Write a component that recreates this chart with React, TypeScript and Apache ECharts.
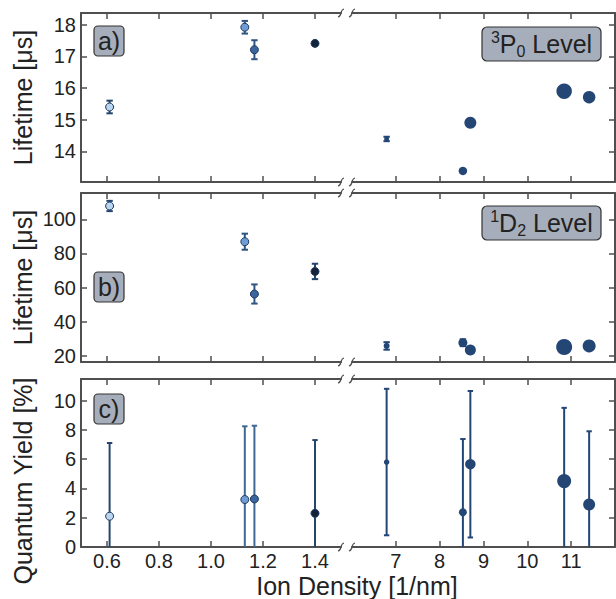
import React, { useEffect, useRef } from 'react';
import * as echarts from 'echarts';

// ---------- data ----------
const xTicksLeft = [0.6, 0.8, 1.0, 1.2, 1.4];
const xTicksRight = [7, 8, 9, 10, 11];
const densityLeft = [0.61, 1.13, 1.167, 1.4];
const densityRight = [6.79, 8.53, 8.7, 10.84, 11.41];

const p0Ticks = [14, 15, 16, 17, 18];
const p0Left = [15.4, 17.92, 17.21, 17.41];
const p0LeftErr = [0.2, 0.2, 0.3, 0.05];
const p0Right = [14.39, 13.38, 14.9, 15.9, 15.71];
const p0RightErr = [0.07, 0, 0, 0, 0];

const d2Ticks = [20, 40, 60, 80, 100];
const d2Left = [107.8, 86.9, 56.3, 69.5];
const d2LeftErr = [3, 4.7, 5.6, 4.5];
const d2Right = [25.9, 27.8, 23.5, 25.3, 25.9];
const d2RightErr = [2.2, 2, 0, 0, 0];

const qyTicks = [0, 2, 4, 6, 8, 10];
const qyLeft = [2.1, 3.24, 3.28, 2.3];
const qyLeftErr = [5, 5, 5, 5];
const qyRight = [5.8, 2.37, 5.65, 4.5, 2.9];
const qyRightErr = [5, 5, 5, 5, 5];

// ---------- styles ----------
const FONT = '"Liberation Sans", Arial, Helvetica, sans-serif';
const AX = '#4f4f4f';
const TXT = '#222222';
const leftColors = ['#b9d5f0', '#6e9dd6', '#3a659f', '#14233a'];
const leftErrColors = ['#24466e', '#2f5683', '#2f5683', '#24466e'];
const qyLeftErrColors = ['#24466e', '#3d6893', '#3d6893', '#24466e'];
const rightColor = '#244675';
const markerBorder = '#1f3a5e';
const leftSize = 8;

const TOPS = [13, 193, 379];
const HEIGHTS = [169, 169, 168];
const LEFT_X = 81;
const LEFT_W = 260;
const RIGHT_X = 352;
const RIGHT_W = 263;

const panels = [
  { yMin: 13.03, yMax: 18.37, ticks: p0Ticks, name: 'Lifetime [μs]', namePad: 0,
    left: p0Left, leftErr: p0LeftErr, right: p0Right, rightErr: p0RightErr,
    rightSizes: [5, 8.5, 12, 15.5, 12.5], leftErrCol: leftErrColors },
  { yMin: 16.5, yMax: 115.4, ticks: d2Ticks, name: 'Lifetime [μs]', namePad: 0,
    left: d2Left, leftErr: d2LeftErr, right: d2Right, rightErr: d2RightErr,
    rightSizes: [6, 9, 11, 16, 13], leftErrCol: leftErrColors },
  { yMin: 0, yMax: 11.47, ticks: qyTicks, name: 'Quantum Yield [%]', namePad: 36,
    left: qyLeft, leftErr: qyLeftErr, right: qyRight, rightErr: qyRightErr,
    rightSizes: [5.5, 8, 10.5, 14, 12], leftErrCol: qyLeftErrColors },
];

function errSeries(gi: number, xs: number[], ys: number[], es: number[], colors: string[], cap: number) {
  return {
    type: 'custom',
    xAxisIndex: gi * 2,
    yAxisIndex: gi,
    clip: true,
    silent: true,
    z: 2,
    data: xs.map((x, i) => [x, ys[i], es[i]]),
    encode: { x: 0, y: 1 },
    renderItem: (params: any, api: any) => {
      const x = api.value(0);
      const y = api.value(1);
      const e = api.value(2);
      if (!e) return { type: 'group', children: [] };
      const t = api.coord([x, y + e]);
      const b = api.coord([x, y - e]);
      const st = { stroke: colors[params.dataIndex], lineWidth: 2 };
      return {
        type: 'group',
        children: [
          { type: 'line', shape: { x1: t[0], y1: t[1], x2: b[0], y2: b[1] }, style: st },
          { type: 'line', shape: { x1: t[0] - cap, y1: t[1], x2: t[0] + cap, y2: t[1] }, style: st },
          { type: 'line', shape: { x1: b[0] - cap, y1: b[1], x2: b[0] + cap, y2: b[1] }, style: st },
        ],
      };
    },
  };
}

function buildOption() {
  const grid: any[] = [];
  const xAxis: any[] = [];
  const yAxis: any[] = [];
  const series: any[] = [];
  const graphic: any[] = [];

  const lineStyle = { color: AX, width: 2 };
  const tickStyle = { color: AX, width: 1.5 };

  panels.forEach((pn, p) => {
    [0, 1].forEach((s) => {
      const gi = p * 2 + s;
      grid.push({
        left: s === 0 ? LEFT_X : RIGHT_X,
        width: s === 0 ? LEFT_W : RIGHT_W,
        top: TOPS[p],
        height: HEIGHTS[p],
        containLabel: false,
        outerBoundsMode: 'none',
      });
      const xt = s === 0 ? xTicksLeft : xTicksRight;
      const xmin = s === 0 ? 0.5 : 6;
      const xmax = s === 0 ? 1.5 : 12;
      const fmt = s === 0 ? (v: number) => v.toFixed(1) : (v: number) => String(Math.round(v));
      ['bottom', 'top'].forEach((pos) => {
        xAxis.push({
          type: 'value',
          gridIndex: gi,
          position: pos,
          min: xmin,
          max: xmax,
          axisLine: { show: true, onZero: false, lineStyle },
          axisTick: { show: true, inside: true, length: 6, customValues: xt, lineStyle: tickStyle },
          axisLabel: {
            show: pos === 'bottom' && p === 2,
            customValues: xt,
            formatter: fmt,
            fontSize: 20,
            fontFamily: FONT,
            color: TXT,
            margin: 4,
          },
          splitLine: { show: false },
        });
      });
      yAxis.push({
        type: 'value',
        gridIndex: gi,
        position: s === 0 ? 'left' : 'right',
        min: pn.yMin,
        max: pn.yMax,
        name: s === 0 ? pn.name : '',
        nameLocation: 'middle',
        nameGap: 46,
        nameTextStyle: {
          fontSize: 25,
          fontFamily: FONT,
          color: TXT,
          padding: [0, pn.namePad, 0, 0],
        },
        axisLine: { show: true, onZero: false, lineStyle },
        axisTick: { show: true, inside: true, length: 6, customValues: pn.ticks, lineStyle: tickStyle },
        axisLabel: {
          show: s === 0,
          customValues: pn.ticks,
          formatter: (v: number) => String(Math.round(v)),
          fontSize: 20,
          fontFamily: FONT,
          color: TXT,
          margin: 5,
        },
        splitLine: { show: false },
      });

      const xs = s === 0 ? densityLeft : densityRight;
      const ys = s === 0 ? pn.left : pn.right;
      const es = s === 0 ? pn.leftErr : pn.rightErr;
      const ecol = s === 0 ? pn.leftErrCol : xs.map(() => rightColor);
      series.push(errSeries(gi, xs, ys, es, ecol, p === 2 ? 2.7 : 3.2));
      series.push({
        type: 'scatter',
        xAxisIndex: gi * 2,
        yAxisIndex: gi,
        z: 3,
        silent: true,
        data: xs.map((x, i) => ({
          value: [x, ys[i]],
          symbolSize: s === 0 ? leftSize : pn.rightSizes[i],
          itemStyle: s === 0
            ? { color: leftColors[i], borderColor: markerBorder, borderWidth: 1, opacity: 1 }
            : { color: rightColor, borderWidth: 0, opacity: 1 },
        })),
      });
    });

    // break marks
    [TOPS[p], TOPS[p] + HEIGHTS[p]].forEach((yy) => {
      [LEFT_X + LEFT_W, RIGHT_X].forEach((cx) => {
        graphic.push({
          type: 'bezierCurve',
          z: 100,
          silent: true,
          shape: {
            x1: cx - 3, y1: yy + 4,
            cpx1: cx + 1.5, cpy1: yy + 3,
            cpx2: cx - 1.5, cpy2: yy - 3,
            x2: cx + 3, y2: yy - 4,
          },
          style: { stroke: AX, lineWidth: 1.2, fill: null },
        });
      });
    });
  });

  // panel letter boxes
  const letters = ['a)', 'b)', 'c)'];
  const letterTops = [26, 272, 394];
  letters.forEach((l, i) => {
    graphic.push({
      type: 'group',
      z: 100,
      silent: true,
      children: [
        {
          type: 'rect',
          shape: { x: 94, y: letterTops[i], width: 30, height: 30, r: 4 },
          style: { fill: '#a7aebb', stroke: '#333333', lineWidth: 1.2 },
        },
        {
          type: 'text',
          style: {
            text: l,
            x: 109,
            y: letterTops[i] + 15,
            align: 'center',
            verticalAlign: 'middle',
            textAlign: 'center',
            textVerticalAlign: 'middle',
            font: '25px ' + FONT,
            fill: TXT,
          },
        },
      ],
    });
  });

  // level boxes
  const levels = [
    { top: 27, text: '{sup|3}{b|P}{sub|0}{b| Level}' },
    { top: 206, text: '{sup|1}{b|D}{sub|2}{b| Level}' },
  ];
  levels.forEach((lv) => {
    graphic.push({
      type: 'group',
      z: 100,
      silent: true,
      children: [
        {
          type: 'rect',
          shape: { x: 482, y: lv.top, width: 119, height: 34, r: 5 },
          style: { fill: '#a7aebb', stroke: '#333333', lineWidth: 1.2 },
        },
        {
          type: 'text',
          style: {
            text: lv.text,
            x: 541.5,
            y: lv.top + 17,
            align: 'center',
            verticalAlign: 'middle',
            textAlign: 'center',
            textVerticalAlign: 'middle',
            fill: TXT,
            font: '25px ' + FONT,
            rich: {
              b: { fontSize: 25, fontFamily: FONT, color: TXT, lineHeight: 30, verticalAlign: 'middle' },
              sup: { fontSize: 16, fontFamily: FONT, color: TXT, lineHeight: 16, verticalAlign: 'top' },
              sub: { fontSize: 16, fontFamily: FONT, color: TXT, lineHeight: 16, verticalAlign: 'bottom' },
            },
          },
        },
      ],
    });
  });

  // x-axis title
  graphic.push({
    type: 'text',
    silent: true,
    style: {
      text: 'Ion Density [1/nm]',
      x: 357,
      y: 573,
      align: 'center',
      verticalAlign: 'top',
      textAlign: 'center',
      textVerticalAlign: 'top',
      font: '25px ' + FONT,
      fill: TXT,
    },
  });

  return {
    animation: false,
    backgroundColor: '#ffffff',
    textStyle: { fontFamily: FONT },
    grid,
    xAxis,
    yAxis,
    series,
    graphic,
  };
}

export default function App() {
  const ref = useRef<HTMLDivElement>(null);
  useEffect(() => {
    if (!ref.current) return;
    const chart = echarts.init(ref.current, undefined, { renderer: 'svg' });
    chart.setOption(buildOption() as any);
    return () => chart.dispose();
  }, []);
  return (
    <div
      ref={ref}
      style={{ position: 'fixed', left: 0, top: 0, width: 616, height: 599, background: '#fff' }}
    />
  );
}
